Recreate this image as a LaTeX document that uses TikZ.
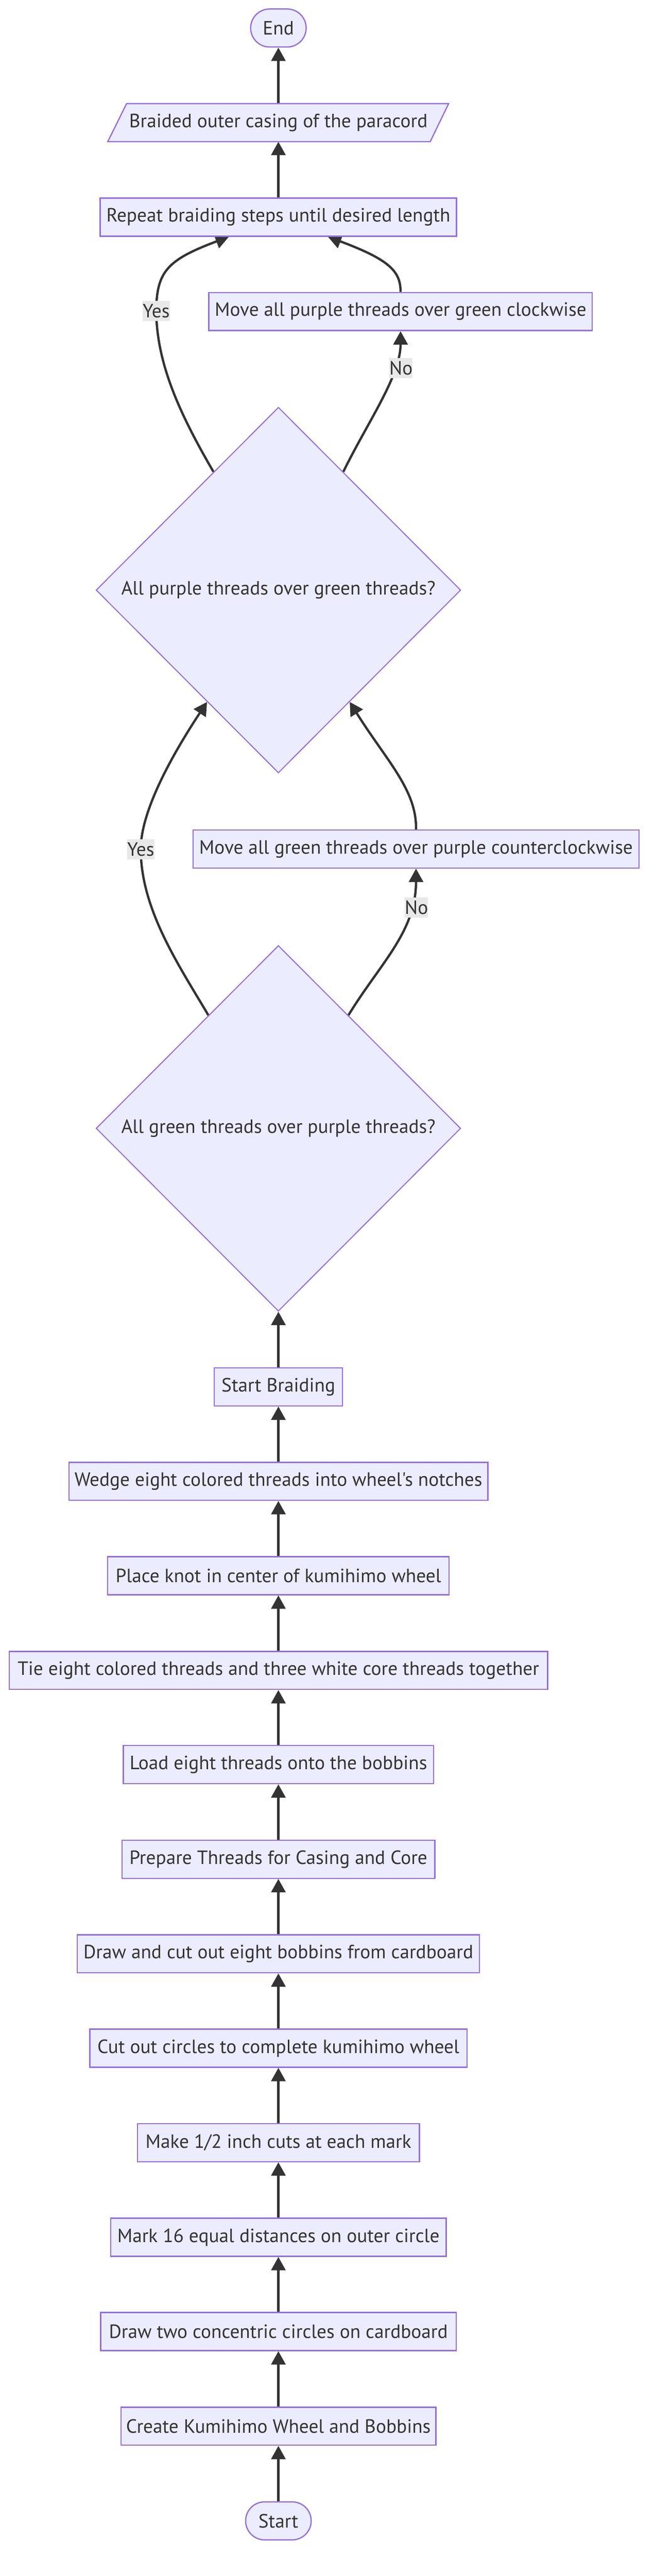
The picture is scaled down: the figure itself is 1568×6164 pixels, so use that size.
\documentclass[tikz,border=0pt]{standalone}
\usepackage{fontspec}
\newfontfamily\dfam{PT Sans}
\usetikzlibrary{shapes.geometric,arrows.meta,calc}
\definecolor{nodefill}{HTML}{ECECFF}
\definecolor{nodeline}{HTML}{9370DB}
\definecolor{ink}{HTML}{333333}
\definecolor{lblbg}{HTML}{E8E8E8}
\pgfdeclarelayer{background}
\pgfsetlayers{background,main}
\newcommand{\dfont}{\dfam\fontsize{46}{55}\selectfont}
\tikzset{
  box/.style={rectangle, draw=nodeline, fill=nodefill, line width=3pt, text=ink, font=\dfont, inner sep=0pt, minimum height=91pt},
  term/.style={box, rounded corners=45.5pt},
  plain/.style={rectangle, text=ink, font=\dfont, inner sep=0pt, minimum height=91pt},
  dec/.style={diamond, aspect=1, draw=nodeline, fill=nodefill, line width=2.5pt, text=ink, font=\dfont, inner sep=0pt, minimum width=873pt, minimum height=875pt},
  lbl/.style={rectangle, fill=lblbg, text=ink, font=\dfont, inner sep=0pt, minimum height=48pt},
  flow/.style={draw=ink, line width=5.5pt, -{Triangle[length=32pt,width=34pt]}},
  para/.style={draw=nodeline, fill=nodefill, line width=3pt, line join=miter},
}
\begin{document}
\begin{tikzpicture}[x=1pt,y=-1pt]
\useasboundingbox (0,0) rectangle (1568,6164);

% parallelogram shape
\path[para] (303,248) -- (1074,248) -- (1030,339) -- (258,339) -- cycle;

% nodes
\node[term, minimum width=133pt] (endn) at (666.5,67) {End};
\node[plain, minimum width=816pt] (braided) at (666.5,293.5) {Braided outer casing of the paracord};
\node[box, minimum width=853pt] (rep) at (666.5,519.5) {Repeat braiding steps until desired length};
\node[box, minimum width=918pt] (mvp) at (959,745.5) {Move all purple threads over green clockwise};
\node[dec] (pd) at (666.5,1412) {All purple threads over green threads?};
\node[box, minimum width=1068pt] (mvg) at (996,2031.5) {Move all green threads over purple counterclockwise};
\node[dec] (gd) at (666.5,2700) {All green threads over purple threads?};
\node[box, minimum width=307pt] (sb) at (666.5,3318.5) {Start Braiding};
\node[box, minimum width=1003pt] (wedge) at (666.5,3544.5) {Wedge eight colored threads into wheel's notches};
\node[box, minimum width=817pt] (place) at (666.5,3770.5) {Place knot in center of kumihimo wheel};
\node[box, minimum width=1289pt] (tie) at (666.5,3997) {Tie eight colored threads and three white core threads together};
\node[box, minimum width=743pt] (load) at (666.5,4222.5) {Load eight threads onto the bobbins};
\node[box, minimum width=749pt] (prep) at (666.5,4449) {Prepare Threads for Casing and Core};
\node[box, minimum width=963pt] (drawcut) at (666.5,4675) {Draw and cut out eight bobbins from cardboard};
\node[box, minimum width=903pt] (cutout) at (666.5,4901) {Cut out circles to complete kumihimo wheel};
\node[box, minimum width=675pt] (make) at (666.5,5127) {Make 1/2 inch cuts at each mark};
\node[box, minimum width=803pt] (mark) at (666.5,5353.5) {Mark 16 equal distances on outer circle};
\node[box, minimum width=851pt] (drawtwo) at (666.5,5579) {Draw two concentric circles on cardboard};
\node[box, minimum width=754pt] (create) at (666.5,5805.5) {Create Kumihimo Wheel and Bobbins};
\node[term, minimum width=157pt] (startn) at (666.5,6032) {Start};

% edge labels
\node[lbl, minimum width=60pt] (yes1) at (374,744) {Yes};
\node[lbl, minimum width=50pt] (no1) at (960,881) {No};
\node[lbl, minimum width=60pt] (yes2) at (337,2032) {Yes};
\node[lbl, minimum width=50pt] (no2) at (997,2171) {No};

% connectors
\begin{pgfonlayer}{background}
\draw[flow] (braided.north) -- (endn.south);
\draw[flow] (rep.north) -- (braided.south);
\draw[flow] ($(pd.north)!0.355!(pd.west)$) .. controls (430,990) and (375,870) .. (yes1.center)
   .. controls (375,650) and (400,622) .. ($(rep.south)+(-118.5,0)$);
\draw[flow] (mvp.north) .. controls (959,650) and (934,622) .. ($(rep.south)+(118.5,0)$);
\draw[flow] ($(pd.north)!0.355!(pd.east)$) .. controls (880,1010) and (959,900) .. (mvp.south);
\draw[flow] ($(gd.north)!0.383!(gd.west)$) .. controls (427,2308) and (337,2175) .. (yes2.center)
   .. controls (337,1940) and (413,1805) .. ($(pd.south)!0.39!(pd.west)$);
\draw[flow] (mvg.north) .. controls (998,1890) and (925,1820) .. ($(pd.south)!0.39!(pd.east)$);
\draw[flow] ($(gd.north)!0.383!(gd.east)$) .. controls (910,2305) and (996,2230) .. (mvg.south);
\draw[flow] (sb.north) -- (gd.south);
\draw[flow] (wedge.north) -- (sb.south);
\draw[flow] (place.north) -- (wedge.south);
\draw[flow] (tie.north) -- (place.south);
\draw[flow] (load.north) -- (tie.south);
\draw[flow] (prep.north) -- (load.south);
\draw[flow] (drawcut.north) -- (prep.south);
\draw[flow] (cutout.north) -- (drawcut.south);
\draw[flow] (make.north) -- (cutout.south);
\draw[flow] (mark.north) -- (make.south);
\draw[flow] (drawtwo.north) -- (mark.south);
\draw[flow] (create.north) -- (drawtwo.south);
\draw[flow] (startn.north) -- (create.south);
\end{pgfonlayer}
\end{tikzpicture}
\end{document}
